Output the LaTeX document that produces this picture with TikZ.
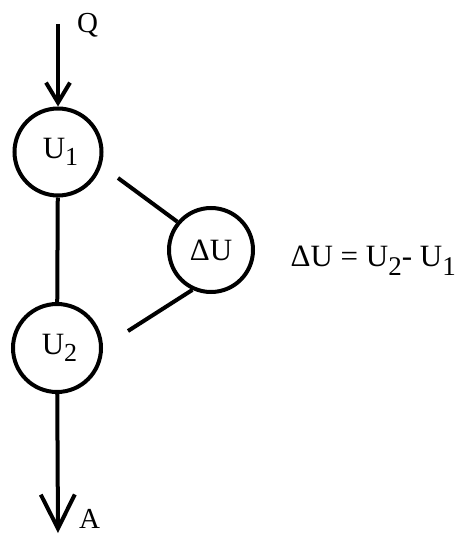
\documentclass[tikz,border=0pt]{standalone}
\usepackage{fontspec}
\setmainfont{Liberation Serif}
\usetikzlibrary{arrows.meta}
\newcommand{\lowsub}[3]{\raisebox{-#3}{\fontsize{#2}{#2}\selectfont #1}}
\begin{document}
\begin{tikzpicture}[x=1pt,y=-1pt,
  circ/.style={circle,draw,line width=4pt,minimum size=#1,inner sep=0pt,
    font=\fontsize{31pt}{33pt}\selectfont},
  conn/.style={line width=4pt},
  tipa/.style={-{Straight Barb[length=20pt,width=24pt,line width=4pt]}},
  tipb/.style={-{Straight Barb[length=34pt,width=34pt,line width=4pt]}},
  lbl/.style={inner sep=0pt,font=\fontsize{29pt}{31pt}\selectfont}]
\useasboundingbox (0,0) rectangle (459,535);
\node[circ=87pt] (U1) at (58,152) {\hspace{5pt}U\lowsub{1}{26pt}{7pt}};
\node[circ=88pt] (U2) at (57,348) {\hspace{5pt}U\lowsub{2}{26pt}{7pt}};
\node[circ=84pt] (dU) at (211,250) {ΔU};
\coordinate (qtop) at (58,24);
\coordinate (aend) at (58,533);
\coordinate (l1) at (118,178);
\coordinate (l2) at (128,331);
\node[lbl,anchor=base west] (Q) at (77,33) {Q};
\node[lbl,anchor=base west] (A) at (79,528) {A};
\node[lbl,anchor=base east,font=\fontsize{31pt}{33pt}\selectfont] (eq) at (456,266)
  {ΔU = U\lowsub{2}{27pt}{9pt}- U\lowsub{1}{27pt}{9pt}};
\draw[conn,tipa] (qtop) -- (U1);
\draw[conn] (U1) -- (U2);
\draw[conn,tipb] (U2) -- (aend);
\draw[conn] (dU.140) -- (l1);
\draw[conn] (dU.245) -- (l2);
\end{tikzpicture}
\end{document}
